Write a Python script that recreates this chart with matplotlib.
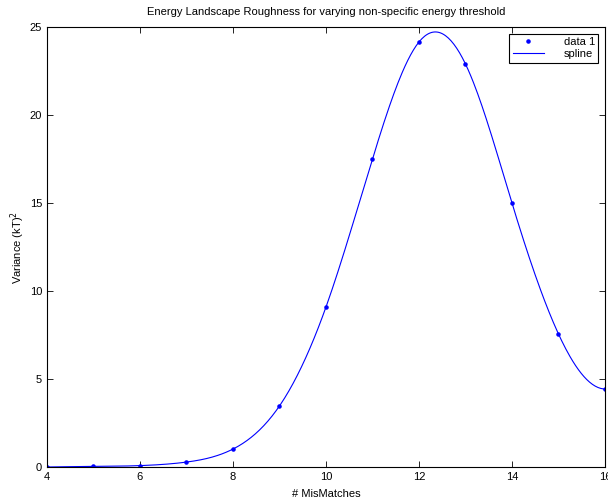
import numpy as np
import matplotlib.pyplot as plt

plt.rcParams['font.family'] = ['Liberation Sans', 'DejaVu Sans']

mismatches = [4, 5, 6, 7, 8, 9, 10, 11, 12, 13, 14, 15, 16]
variance = [0.0, 0.03, 0.08, 0.28, 1.02, 3.47, 9.09, 17.5, 24.15, 22.9, 15.0, 7.56, 4.43]
x_ticks = [4, 6, 8, 10, 12, 14, 16]
y_ticks = [0, 5, 10, 15, 20, 25]


def not_a_knot_spline(x, y, xq):
    """Cubic spline with not-a-knot ends (like MATLAB spline)."""
    x = np.asarray(x, float)
    y = np.asarray(y, float)
    n = len(x)
    h = np.diff(x)
    A = np.zeros((n, n))
    b = np.zeros(n)
    # not-a-knot: third derivative continuous at x[1] and x[n-2]
    A[0, 0] = h[1]
    A[0, 1] = -(h[0] + h[1])
    A[0, 2] = h[0]
    A[-1, -3] = h[-1]
    A[-1, -2] = -(h[-2] + h[-1])
    A[-1, -1] = h[-2]
    for i in range(1, n - 1):
        A[i, i - 1] = h[i - 1]
        A[i, i] = 2 * (h[i - 1] + h[i])
        A[i, i + 1] = h[i]
        b[i] = 6 * ((y[i + 1] - y[i]) / h[i] - (y[i] - y[i - 1]) / h[i - 1])
    M = np.linalg.solve(A, b)
    idx = np.clip(np.searchsorted(x, xq) - 1, 0, n - 2)
    x0, x1 = x[idx], x[idx + 1]
    hi = h[idx]
    return (M[idx] * (x1 - xq) ** 3 / (6 * hi) + M[idx + 1] * (xq - x0) ** 3 / (6 * hi)
            + (y[idx] / hi - M[idx] * hi / 6) * (x1 - xq)
            + (y[idx + 1] / hi - M[idx + 1] * hi / 6) * (xq - x0))


fig = plt.figure(figsize=(6.08, 5.04), dpi=100)
ax = fig.add_axes([0.0773, 0.0734, 0.9177, 0.873])

xs = np.linspace(mismatches[0], mismatches[-1], 400)
ax.plot(mismatches, variance, '.', color='blue', markersize=4.5, label='data 1')
ax.plot(xs, not_a_knot_spline(mismatches, variance, xs), '-', color='blue',
        linewidth=0.8, label='spline')

ax.set_xlim(4, 16)
ax.set_ylim(0, 25)
ax.set_xticks(x_ticks)
ax.set_yticks(y_ticks)
ax.tick_params(direction='in', top=True, right=True, labelsize=8, length=4, width=0.6)
for s in ax.spines.values():
    s.set_linewidth(0.8)

ax.set_title('Energy Landscape Roughness for varying non-specific energy threshold',
             fontsize=8, pad=9)
ax.set_xlabel('# MisMatches', fontsize=8, labelpad=5)
ax.set_ylabel('Variance (kT)$^2$', fontsize=8, labelpad=2)

leg = ax.legend(loc='upper right', fontsize=8, fancybox=False, framealpha=1,
                edgecolor='black', borderaxespad=0.6, handlelength=2.8,
                handletextpad=1.8, borderpad=0.3, labelspacing=0.2)
leg.get_frame().set_linewidth(0.8)

fig.savefig('out.png', dpi=100)
